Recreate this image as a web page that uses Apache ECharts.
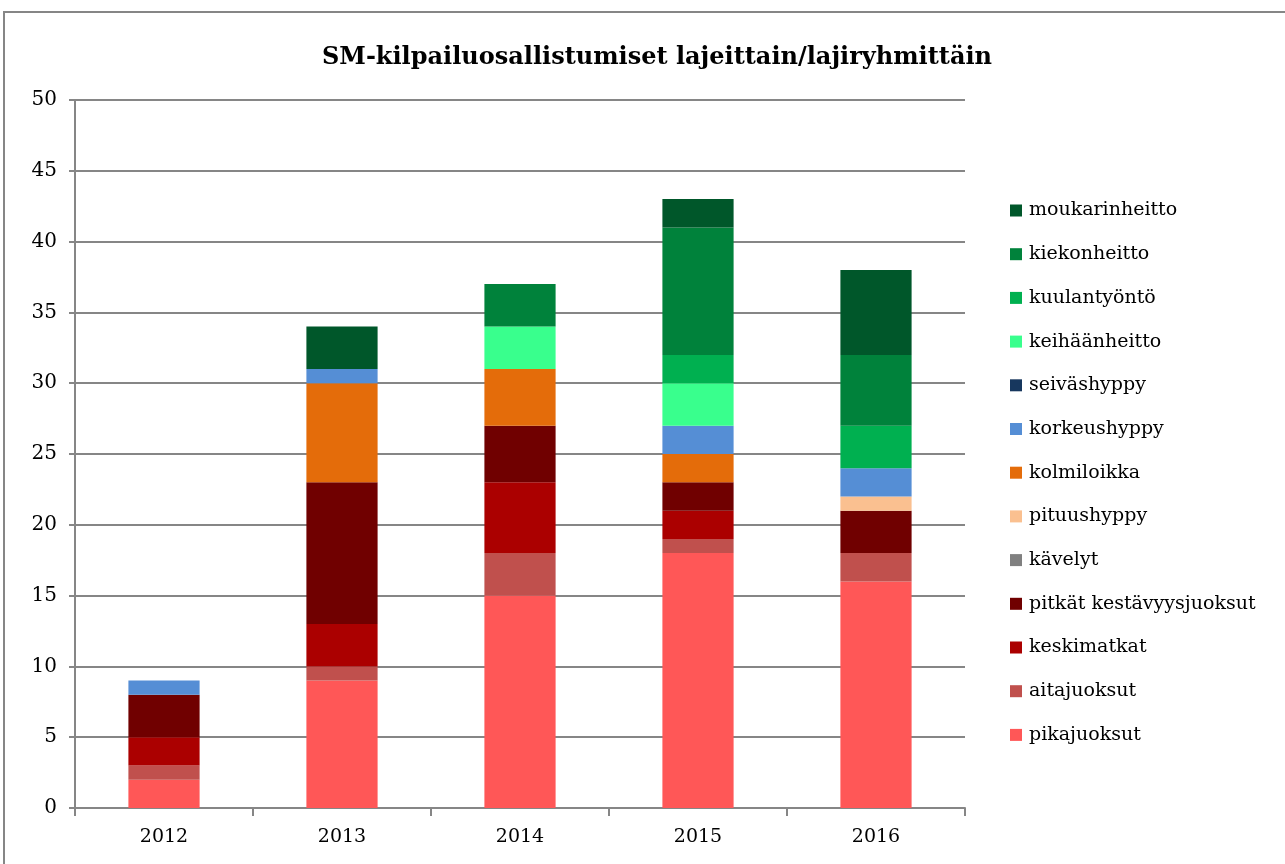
<!DOCTYPE html>
<html>
<head>
<meta charset="utf-8">
<script src="https://cdn.jsdelivr.net/npm/echarts@6/dist/echarts.min.js"></script>
<style>
  html, body { margin: 0; padding: 0; background: #fff; }
  #chart-wrapper { width: 1285px; height: 864px; }
</style>
</head>
<body>
<div id="chart-wrapper"></div>
<script>
// years on the x axis
const years = ["2012", "2013", "2014", "2015", "2016"];

// one array per event group, stacked bottom -> top
const pikajuoksut = [2, 9, 15, 18, 16];
const aitajuoksut = [1, 1, 3, 1, 2];
const keskimatkat = [2, 3, 5, 2, 0];
const pitkatKestavyys = [3, 10, 4, 2, 3];
const kavelyt = [0, 0, 0, 0, 0];
const pituushyppy = [0, 0, 0, 0, 1];
const kolmiloikka = [0, 7, 4, 2, 0];
const korkeushyppy = [1, 1, 0, 2, 2];
const seivashyppy = [0, 0, 0, 0, 0];
const keihaanheitto = [0, 0, 3, 3, 0];
const kuulantyonto = [0, 0, 0, 2, 3];
const kiekonheitto = [0, 0, 3, 9, 5];
const moukarinheitto = [0, 3, 0, 2, 6];

const yTicks = [0, 5, 10, 15, 20, 25, 30, 35, 40, 45, 50];

const seriesDefs = [
  ["pikajuoksut", pikajuoksut, "#ff5757"],
  ["aitajuoksut", aitajuoksut, "#c0504d"],
  ["keskimatkat", keskimatkat, "#ab0000"],
  ["pitkät kestävyysjuoksut", pitkatKestavyys, "#700000"],
  ["kävelyt", kavelyt, "#808080"],
  ["pituushyppy", pituushyppy, "#fac090"],
  ["kolmiloikka", kolmiloikka, "#e46c0a"],
  ["korkeushyppy", korkeushyppy, "#558ed5"],
  ["seiväshyppy", seivashyppy, "#17375e"],
  ["keihäänheitto", keihaanheitto, "#39ff8d"],
  ["kuulantyöntö", kuulantyonto, "#00b050"],
  ["kiekonheitto", kiekonheitto, "#00823b"],
  ["moukarinheitto", moukarinheitto, "#00572a"],
];

const font = "'DejaVu Serif', 'Liberation Serif', serif";

const chart = echarts.init(document.getElementById("chart-wrapper"), null, { renderer: "canvas" });

const series = seriesDefs.map(([name, vals, color]) => ({
  name: name,
  type: "bar",
  stack: "total",
  barWidth: "40%",
  data: vals.map((v) => (v === 0 ? null : v)),
  itemStyle: { color: color },
}));

const option = {
  backgroundColor: "#fff",
  animation: false,
  textStyle: { fontFamily: font },
  graphic: [
    {
      type: "rect",
      shape: { x: 4, y: 12, width: 1300, height: 900 },
      style: { fill: "none", stroke: "#868686", lineWidth: 2 },
      silent: true,
    },
  ],
  title: {
    text: "SM-kilpailuosallistumiset lajeittain/lajiryhmittäin",
    left: 652,
    top: 41,
    textAlign: "center",
    textStyle: { fontFamily: font, fontWeight: "bold", fontSize: 24, color: "#000" },
  },
  legend: {
    orient: "vertical",
    left: 1005,
    top: 196,
    itemWidth: 12,
    itemHeight: 12,
    itemGap: 24.7,
    icon: "rect",
    data: seriesDefs.map((d) => d[0]).reverse(),
    textStyle: { fontFamily: font, fontSize: 19, color: "#000", padding: [0, 0, 0, 2] },
  },
  grid: { left: 75, right: 320, top: 100, bottom: 56, containLabel: false },
  xAxis: {
    type: "category",
    data: years,
    axisLine: { lineStyle: { color: "#868686", width: 2 } },
    axisTick: { show: true, length: 8, lineStyle: { color: "#868686", width: 2 } },
    axisLabel: { fontFamily: font, fontSize: 19, color: "#000", margin: 20 },
  },
  yAxis: {
    type: "value",
    min: yTicks[0],
    max: yTicks[yTicks.length - 1],
    interval: 5,
    axisLine: { show: true, lineStyle: { color: "#868686", width: 2 } },
    axisTick: { show: true, length: 6, lineStyle: { color: "#868686", width: 2 } },
    splitLine: { lineStyle: { color: "#868686", width: 2 } },
    axisLabel: { fontFamily: font, fontSize: 20, color: "#000", margin: 18 },
  },
  series: series,
};

chart.setOption(option);
</script>
</body>
</html>
